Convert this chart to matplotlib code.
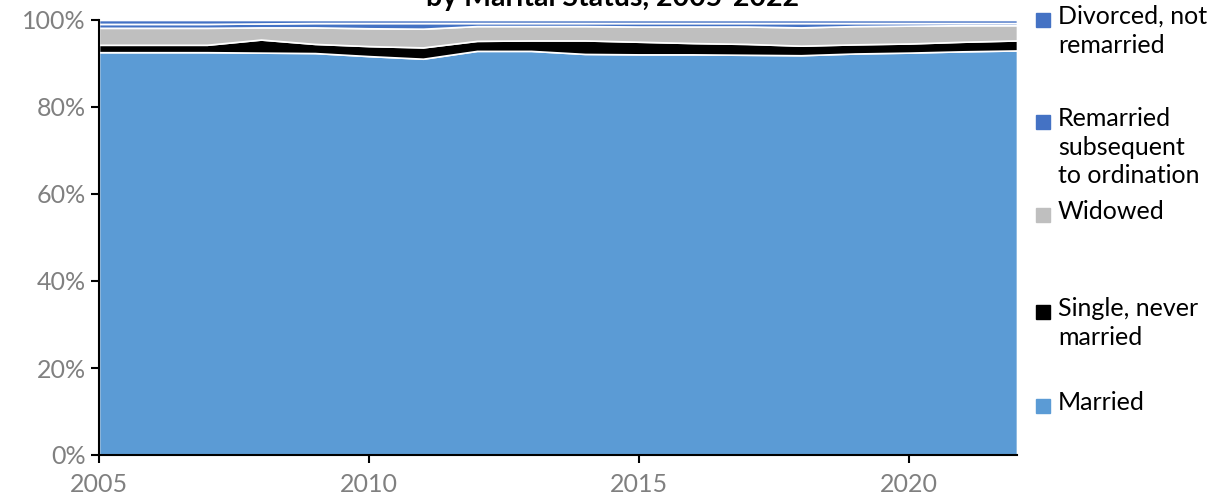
import matplotlib.pyplot as plt
from matplotlib.patches import Rectangle
from matplotlib.ticker import FuncFormatter

plt.rcParams['font.family'] = ['Lato', 'DejaVu Sans']

years = list(range(2005, 2023))
married = [92.6, 92.6, 92.6, 92.5, 92.4, 91.7, 91.1, 92.9, 92.9, 92.2, 92.1, 92.1, 92.0, 91.9, 92.3, 92.5, 92.8, 93.0]
single = [1.7, 1.7, 1.7, 3.0, 2.1, 2.3, 2.6, 2.3, 2.4, 3.1, 2.9, 2.6, 2.5, 2.2, 2.1, 2.1, 2.2, 2.3]
widowed = [3.9, 3.9, 3.9, 2.8, 3.8, 4.1, 4.3, 3.4, 3.3, 3.3, 3.5, 3.8, 4.0, 4.2, 4.2, 4.1, 3.8, 3.5]
remarried = [0.9, 0.9, 0.9, 0.9, 1.0, 1.2, 1.3, 0.7, 0.7, 0.7, 0.8, 0.8, 0.8, 1.0, 0.7, 0.6, 0.5, 0.5]
divorced = [0.9, 0.9, 0.9, 0.8, 0.7, 0.7, 0.7, 0.7, 0.7, 0.7, 0.7, 0.7, 0.7, 0.7, 0.7, 0.7, 0.7, 0.7]

labels = ["Married", "Single, never\nmarried", "Widowed",
          "Remarried\nsubsequent\nto ordination", "Divorced, not\nremarried"]
colors = ["#5B9BD5", "#000000", "#BFBFBF", "#4472C4", "#4472C4"]
title = "by Marital Status, 2005-2022"

fig = plt.figure(figsize=(12.25, 5.04), dpi=100)
ax = fig.add_axes([99 / 1225, 49 / 504, 918 / 1225, 435 / 504])

ax.stackplot(years, married, single, widowed, remarried, divorced,
             colors=colors, edgecolor="white", linewidth=1.2)

ax.set_xlim(2005, 2022)
ax.set_ylim(0, 100)
ax.set_xticks([2005, 2010, 2015, 2020])
ax.set_yticks(range(0, 101, 20))
ax.yaxis.set_major_formatter(FuncFormatter(lambda v, p: f"{v:.0f}%"))
ax.tick_params(axis="both", labelsize=18, colors="black", labelcolor="#808080",
               length=6, width=1.5, direction="out")
ax.tick_params(axis="x", pad=7)
for s in ["top", "right"]:
    ax.spines[s].set_visible(False)
for s in ["left", "bottom"]:
    ax.spines[s].set_linewidth(1.5)

# title sits partly above the canvas, as in the source image
fig.text(0.5, 1 - 6 / 504, title, ha="center", va="baseline",
         fontsize=20.5, fontweight="bold")

# legend drawn by hand, reversed stack order, handle at first text line
leg_y = [20, 122, 215, 312, 406]
for lab, col, y in zip(labels[::-1], colors[::-1], leg_y):
    fy = 1 - y / 504
    fig.patches.append(Rectangle((1036 / 1225, fy - 7 / 504), 14 / 1225, 14 / 504,
                                 transform=fig.transFigure, color=col, figure=fig))
    fig.text(1058 / 1225, fy + 15 / 504, lab, ha="left", va="top",
             fontsize=18, linespacing=1.3)

fig.savefig("out.png", dpi=100)
